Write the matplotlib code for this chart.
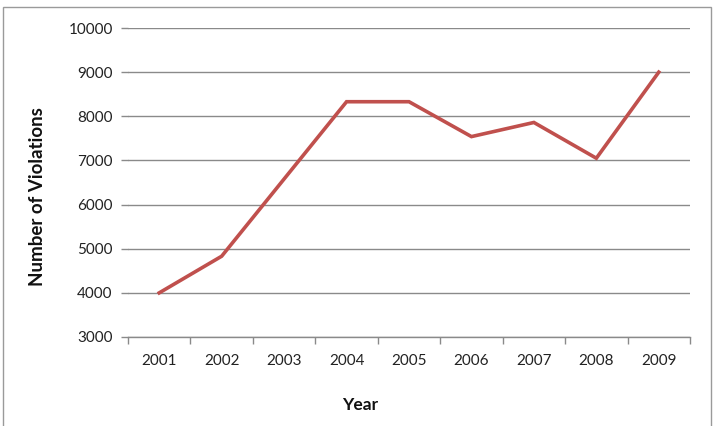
import matplotlib.pyplot as plt
from matplotlib.patches import Rectangle
from matplotlib.ticker import FixedLocator

plt.rcParams['font.family'] = ['Lato', 'DejaVu Sans']

years = ['2001', '2002', '2003', '2004', '2005', '2006', '2007', '2008', '2009']
violations = [4000, 4830, 6580, 8330, 8330, 7540, 7860, 7050, 9000]
y_ticks = [3000, 4000, 5000, 6000, 7000, 8000, 9000, 10000]

grid_gray = '#8a8a8a'
line_red = '#c0504d'

fig = plt.figure(figsize=(7.14, 4.26), dpi=100)
ax = fig.add_axes([128 / 714, 1 - 337 / 426, (690 - 128) / 714, (337 - 28) / 426])

x = list(range(len(years)))
ax.plot(x, violations, color=line_red, linewidth=2.6, solid_joinstyle='miter', zorder=3)

ax.set_xlim(-0.5, len(years) - 0.5)
ax.set_ylim(3000, 10000)
ax.set_yticks(y_ticks)
ax.set_yticklabels([str(v) for v in y_ticks])
ax.set_xticks(x)
ax.set_xticklabels(years)
ax.xaxis.set_minor_locator(FixedLocator([i - 0.5 for i in range(len(years) + 1)]))

ax.grid(axis='y', color=grid_gray, linewidth=1, zorder=1)
for s in ['top', 'right', 'left']:
    ax.spines[s].set_visible(False)
ax.spines['bottom'].set_color(grid_gray)
ax.spines['bottom'].set_linewidth(1)

ax.tick_params(axis='y', length=5, width=1, color=grid_gray, pad=6, labelsize=11, labelcolor='#222222')
ax.tick_params(axis='x', which='major', length=0, pad=12, labelsize=11, labelcolor='#222222')
ax.tick_params(axis='x', which='minor', length=5, width=1, color=grid_gray)

fig.text(38 / 714, 1 - 197 / 426, 'Number of Violations', rotation=90, ha='center', va='center',
         fontsize=13.5, fontweight='bold', color='#111111')
fig.text(360 / 714, 1 - 405 / 426, 'Year', ha='center', va='center',
         fontsize=12.5, fontweight='bold', color='#111111')

# outer chart border
fig.patches.append(Rectangle((3 / 714, -0.05), 708 / 714, 1.05 - 7 / 426, transform=fig.transFigure,
                             fill=False, edgecolor='#9a9a9a', linewidth=1))

fig.savefig('out.png', dpi=100)
